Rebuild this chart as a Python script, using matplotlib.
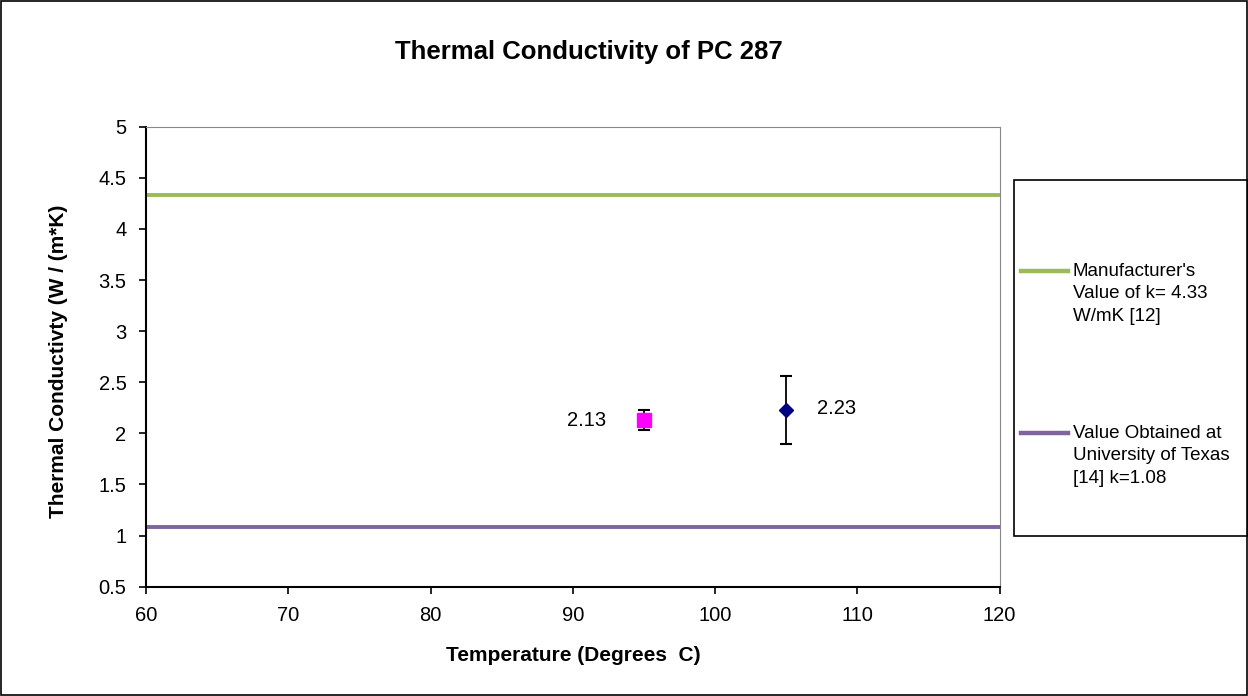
import matplotlib
matplotlib.use('Agg')
import matplotlib.pyplot as plt
from matplotlib.patches import Rectangle
from matplotlib.legend_handler import HandlerLine2D

# --- Data ---
temps = [95, 105]
k_vals = [2.13, 2.23]
k_err = [0.095, 0.33]
k_labels = ['2.13', '2.23']
k_manufacturer = 4.33
k_texas = 1.08
ref_labels = ["Manufacturer's\nValue of k= 4.33\nW/mK [12]",
              "Value Obtained at\nUniversity of Texas\n[14] k=1.08"]

plt.rcParams['font.family'] = ['Liberation Sans', 'DejaVu Sans']


class FirstLineHandler(HandlerLine2D):
    # put the legend line next to the first text line, like Excel does
    def create_artists(self, legend, orig_handle, xdescent, ydescent,
                       width, height, fontsize, trans):
        return super().create_artists(legend, orig_handle, xdescent, ydescent - 33.1,
                                      width, height, fontsize, trans)


fig = plt.figure(figsize=(12.48, 6.96), dpi=100)
ax = fig.add_axes([0.117, 0.157, 0.684, 0.661])

# --- Reference lines ---
l1 = ax.axhline(k_manufacturer, color='#9BBB59', lw=2.8, label=ref_labels[0])
l2 = ax.axhline(k_texas, color='#8064A2', lw=2.8, label=ref_labels[1])

# --- Measured points ---
ax.errorbar(temps[0], k_vals[0], yerr=k_err[0], fmt='s', color='#FF00FF',
            ms=10, ecolor='black', elinewidth=1.3, capsize=4.2, capthick=1.5)
ax.errorbar(temps[1], k_vals[1], yerr=k_err[1], fmt='D', color='#000080',
            ms=7, ecolor='black', elinewidth=1.3, capsize=4.2, capthick=1.5)
ax.annotate(k_labels[0], (temps[0], k_vals[0]), xytext=(-41, 0),
            textcoords='offset points', ha='center', va='center', fontsize=14.5)
ax.annotate(k_labels[1], (temps[1], k_vals[1]), xytext=(36, 1),
            textcoords='offset points', ha='center', va='center', fontsize=14.5)

# --- Axes ---
ax.set_xlim(60, 120)
ax.set_ylim(0.5, 5)
ax.set_xticks(range(60, 121, 10))
ax.set_yticks([0.5, 1, 1.5, 2, 2.5, 3, 3.5, 4, 4.5, 5])
ax.set_yticklabels(['0.5', '1', '1.5', '2', '2.5', '3', '3.5', '4', '4.5', '5'])
ax.tick_params(labelsize=14.5, direction='out', length=5, width=1.2, pad=9)
for s in ['left', 'bottom']:
    ax.spines[s].set_linewidth(1.5)
for s in ['top', 'right']:
    ax.spines[s].set_color('#888888')

ax.set_xlabel('Temperature (Degrees  C)', fontsize=15, fontweight='bold', va='center')
ax.xaxis.set_label_coords(0.5, -0.15)
ax.set_ylabel('Thermal Conductivty (W / (m*K)', fontsize=15, fontweight='bold', va='center')
ax.yaxis.set_label_coords(-0.102, 0.49)
fig.text(0.472, 0.925, 'Thermal Conductivity of PC 287', ha='center', va='center',
         fontsize=18.5, fontweight='bold')

# --- Legend ---
hmap = {l1: FirstLineHandler(), l2: FirstLineHandler()}
leg = fig.legend(handles=[l1, l2], loc='upper left', bbox_to_anchor=(0.818, 0.6222),
                 fontsize=13.5, frameon=False, handlelength=2.5, handletextpad=0.27,
                 labelspacing=5.36, borderpad=0, borderaxespad=0, handler_map=hmap)
for t in leg.get_texts():
    t.set_linespacing(1.41)
for h in leg.legend_handles:
    h.set_linewidth(3.2)

fig.add_artist(Rectangle((0.8125, 0.2299), 0.1875, 0.5115, transform=fig.transFigure,
                         fill=False, edgecolor='black', lw=1.2))
fig.add_artist(Rectangle((0.001, 0.002), 0.998, 0.996, transform=fig.transFigure,
                         fill=False, edgecolor='black', lw=1.2))

fig.savefig('out.png', dpi=100)
